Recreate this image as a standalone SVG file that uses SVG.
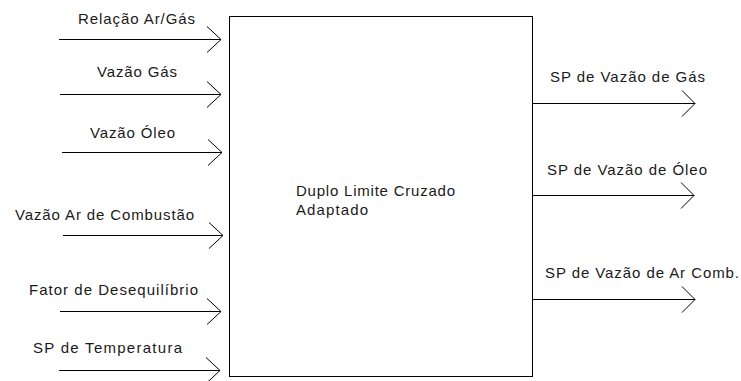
<svg xmlns="http://www.w3.org/2000/svg" width="741" height="381" viewBox="0 0 741 381">
  <style>
    .lbl { font-family: "Liberation Sans", Arial, sans-serif; font-size: 15px; fill: #1a1a1a; }
    .box { fill: #fff; stroke: #000; stroke-width: 1; }
    .wire { fill: none; stroke: #000; stroke-width: 1; }
  </style>
  <rect width="741" height="381" fill="#fff"/>

  <g id="block">
    <rect class="box" x="229.5" y="16.5" width="303" height="360"/>
    <text class="lbl" x="296" y="196" textLength="159" lengthAdjust="spacing">Duplo Limite Cruzado</text>
    <text class="lbl" x="296" y="215" textLength="72" lengthAdjust="spacing">Adaptado</text>
  </g>

  <g id="input-labels">
    <text class="lbl" x="78" y="24" textLength="117" lengthAdjust="spacing">Relação Ar/Gás</text>
    <text class="lbl" x="97" y="77" textLength="80" lengthAdjust="spacing">Vazão Gás</text>
    <text class="lbl" x="90" y="138" textLength="85" lengthAdjust="spacing">Vazão Óleo</text>
    <text class="lbl" x="15" y="220" textLength="179" lengthAdjust="spacing">Vazão Ar de Combustão</text>
    <text class="lbl" x="29" y="295" textLength="169" lengthAdjust="spacing">Fator de Desequilíbrio</text>
    <text class="lbl" x="33" y="353" textLength="149" lengthAdjust="spacing">SP de Temperatura</text>
  </g>

  <g id="output-labels">
    <text class="lbl" x="550" y="82" textLength="155" lengthAdjust="spacing">SP de Vazão de Gás</text>
    <text class="lbl" x="547" y="175" textLength="160" lengthAdjust="spacing">SP de Vazão de Óleo</text>
    <text class="lbl" x="545" y="278" textLength="194" lengthAdjust="spacing">SP de Vazão de Ar Comb.</text>
  </g>

  <g id="connectors">
    <!-- inputs -->
    <path class="wire" d="M59 39.5H221M207 26.5L221 39.5L207 52.5"/>
    <path class="wire" d="M60 94.5H221M207 81.5L221 94.5L207 107.5"/>
    <path class="wire" d="M62 152.5H222M208 139.5L222 152.5L208 165.5"/>
    <path class="wire" d="M63 235.5H223M209 222.5L223 235.5L209 248.5"/>
    <path class="wire" d="M60 311.5H221M207 298.5L221 311.5L207 324.5"/>
    <path class="wire" d="M59 370.5H220M206 357.5L220 370.5L206 383.5"/>
    <!-- outputs -->
    <path class="wire" d="M532 103.5H695M682 90.5L695 103.5L682 116.5"/>
    <path class="wire" d="M532 195.5H694M681 182.5L694 195.5L681 208.5"/>
    <path class="wire" d="M532 299.5H695M682 286.5L695 299.5L682 312.5"/>
  </g>
</svg>
